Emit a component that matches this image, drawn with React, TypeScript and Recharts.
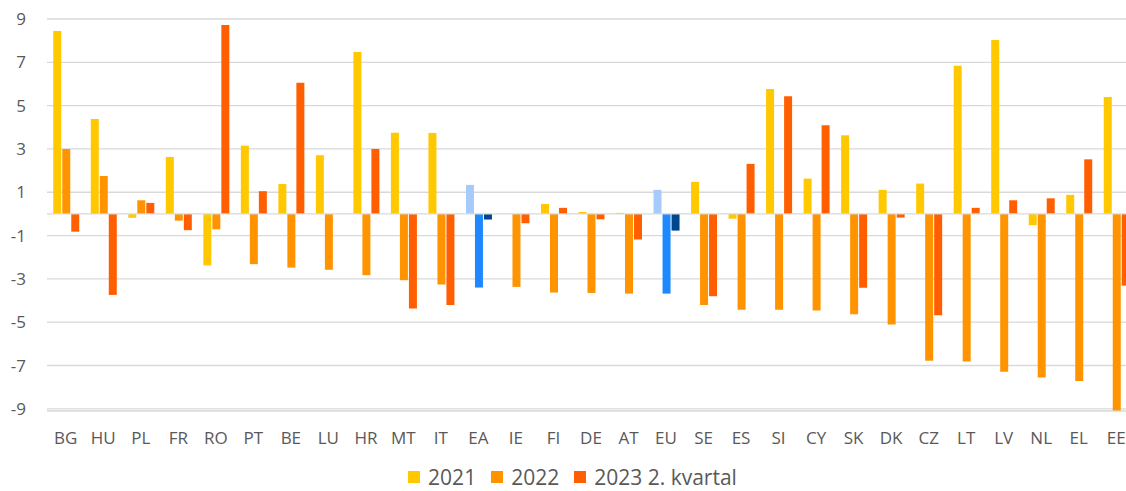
import React from 'react';
import { BarChart, Bar, XAxis, YAxis, CartesianGrid, ReferenceLine, Legend, Cell } from 'recharts';

const countries = ['BG', 'HU', 'PL', 'FR', 'RO', 'PT', 'BE', 'LU', 'HR', 'MT', 'IT', 'EA', 'IE', 'FI', 'DE', 'AT', 'EU', 'SE', 'ES', 'SI', 'CY', 'SK', 'DK', 'CZ', 'LT', 'LV', 'NL', 'EL', 'EE'];

const values2021 = [8.45, 4.38, -0.18, 2.63, -2.38, 3.15, 1.38, 2.71, 7.48, 3.75, 3.74, 1.34, null, 0.46, 0.09, 0.05, 1.11, 1.48, -0.22, 5.77, 1.63, 3.63, 1.11, 1.4, 6.84, 8.03, -0.52, 0.88, 5.4];
const values2022 = [3.0, 1.75, 0.63, -0.31, -0.71, -2.32, -2.48, -2.58, -2.83, -3.06, -3.26, -3.4, -3.37, -3.63, -3.65, -3.68, -3.68, -4.21, -4.42, -4.42, -4.46, -4.63, -5.11, -6.78, -6.81, -7.29, -7.55, -7.71, -9.08];
const values2023q2 = [-0.82, -3.74, 0.51, -0.75, 8.72, 1.05, 6.06, null, 3.0, -4.37, -4.21, -0.26, -0.43, 0.28, -0.25, -1.18, -0.77, -3.8, 2.31, 5.43, 4.09, -3.41, -0.17, -4.68, 0.28, 0.63, 0.72, 2.52, -3.31];

const yTicks = [-9, -7, -5, -3, -1, 1, 3, 5, 7, 9];

// aggregates (EA, EU) are drawn in blues
const aggregates = ['EA', 'EU'];

const series = [
  { key: 'v2021', name: '2021', color: '#FFC800', aggColor: '#A6CBFA' },
  { key: 'v2022', name: '2022', color: '#FF9400', aggColor: '#1E88FF' },
  { key: 'v2023', name: '2023 2. kvartal', color: '#FF5F00', aggColor: '#00468C' },
];

const data = countries.map((c, i) => ({
  country: c,
  v2021: values2021[i],
  v2022: values2022[i],
  v2023: values2023q2[i],
}));

const font = '"Open Sans", sans-serif';
const textColor = '#595959';

const renderLegend = () => (
  <div style={{ display: 'flex', justifyContent: 'center', alignItems: 'center', height: 40, paddingTop: 12, boxSizing: 'border-box', marginLeft: 10 }}>
    {series.map((s, i) => (
      <div key={s.key} style={{ display: 'flex', alignItems: 'center', marginLeft: i === 0 ? 0 : 15 }}>
        <span style={{ display: 'inline-block', width: 12, height: 12, background: s.color, marginRight: 8 }} />
        <span style={{ fontFamily: font, fontSize: 21, lineHeight: '21px', color: textColor }}>{s.name}</span>
      </div>
    ))}
  </div>
);

export default function App() {
  return (
    <div style={{ position: 'absolute', left: 0, top: 0, width: 1126, height: 491, overflow: 'hidden', background: '#fff' }}>
      <BarChart
        width={1140}
        height={491}
        data={data}
        margin={{ top: 19, right: 5, bottom: 0, left: 0 }}
        barCategoryGap="16.7%"
        barGap={1}
      >
        <CartesianGrid vertical={false} stroke="#d9d9d9" strokeWidth={1.3} />
        <XAxis
          dataKey="country"
          axisLine={false}
          tickLine={false}
          height={40}
          tickMargin={15}
          interval={0}
          tick={{ fill: textColor, fontSize: 17, fontFamily: font }}
        />
        <YAxis
          width={47}
          domain={[-9.1, 9]}
          ticks={yTicks}
          axisLine={false}
          tickLine={false}
          tickMargin={15}
          tick={{ fill: textColor, fontSize: 17, fontFamily: font }}
        />
        <ReferenceLine y={0} stroke="#d9d9d9" strokeWidth={1.3} />
        <Legend verticalAlign="bottom" height={40} content={renderLegend} />
        {series.map((s) => (
          <Bar key={s.key} dataKey={s.key} name={s.name} fill={s.color} isAnimationActive={false}>
            {data.map((d) => (
              <Cell key={d.country} fill={aggregates.includes(d.country) ? s.aggColor : s.color} />
            ))}
          </Bar>
        ))}
      </BarChart>
    </div>
  );
}
